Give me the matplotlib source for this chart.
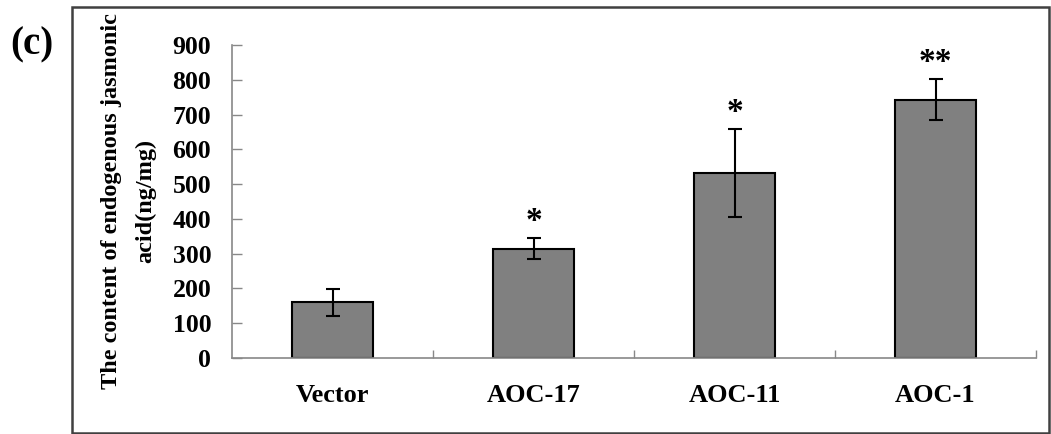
import matplotlib
matplotlib.use("Agg")
import matplotlib.pyplot as plt
from matplotlib.patches import Rectangle

categories = ["Vector", "AOC-17", "AOC-11", "AOC-1"]
values = [160, 314, 532, 743]
errors = [38, 30, 126, 58]
signif = ["", "*", "*", "**"]
yticks = [0, 100, 200, 300, 400, 500, 600, 700, 800, 900]

plt.rcParams['font.family'] = ['Liberation Serif', 'DejaVu Serif']
plt.rcParams['font.weight'] = 'bold'

fig = plt.figure(figsize=(10.51, 4.34), dpi=100)
ax = fig.add_axes([232/1051, 1-358/434, (1036-232)/1051, (358-45)/434])

x = list(range(len(categories)))
ax.bar(x, values, width=0.40, color="#808080", edgecolor="black", linewidth=1.5, zorder=2)
ax.errorbar(x, values, yerr=errors, fmt='none', ecolor="black", elinewidth=1.5,
            capsize=5, capthick=1.5, zorder=3)

for xi, v, e, s in zip(x, values, errors, signif):
    if s:
        ax.annotate(s, (xi, v + e), xytext=(0, 1), textcoords='offset points',
                    ha='center', va='bottom', fontsize=24, fontweight='bold')

ax.set_xlim(-0.5, 3.5)
ax.set_ylim(0, 900)
ax.set_yticks(yticks)
ax.set_yticklabels([str(t) for t in yticks], fontsize=18.5, fontweight='bold')
ax.set_xticks(x)
ax.set_xticklabels(categories, fontsize=19, fontweight='bold')
ax.set_xticks([0.5, 1.5, 2.5, 3.5], minor=True)
ax.tick_params(axis='x', which='major', length=0, pad=19)
ax.tick_params(axis='x', which='minor', direction='in', length=6, color='#888888', width=1)
ax.tick_params(axis='y', direction='in', length=7, color='#888888', width=1, pad=15)

for sp in ['top', 'right']:
    ax.spines[sp].set_visible(False)
for sp in ['left', 'bottom']:
    ax.spines[sp].set_color('#888888')
    ax.spines[sp].set_linewidth(1.2)

fig.text(129/1051, 1-201/434, "The content of endogenous jasmonic\nacid(ng/mg)",
         rotation=90, ha='center', va='center', fontsize=17.5, fontweight='bold',
         linespacing=1.8, multialignment='center')

fig.text(10/1051, 1-45/434, "(c)", ha='left', va='center', fontsize=28, fontweight='bold')

fig.patches.append(Rectangle((72/1051, 1/434), (1049-72)/1051, 426/434,
                             transform=fig.transFigure, fill=False,
                             edgecolor='#404040', linewidth=1.8))

fig.savefig("out.png", dpi=100)
